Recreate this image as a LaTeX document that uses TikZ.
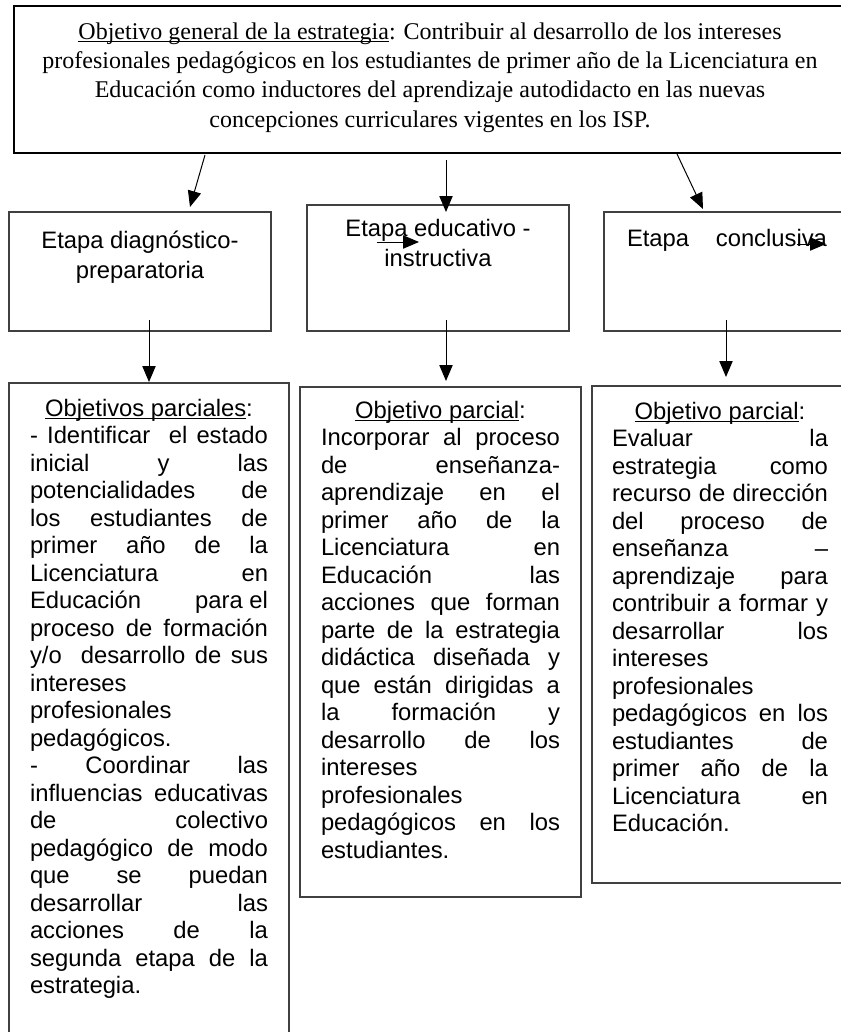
\documentclass[tikz,border=0pt]{standalone}
\usepackage{fontspec}
\usetikzlibrary{arrows.meta}
\newfontfamily\serifA{Liberation Serif}
\newfontfamily\sansA{Liberation Sans}
\newcommand\myul[1]{\leavevmode\setbox0\hbox{#1}\rlap{\rule[-0.13em]{\wd0}{0.055em}}\box0}
\newcommand\jln[1]{\makebox[\linewidth][s]{#1}\par}
\newcommand\lln[1]{\makebox[\linewidth][l]{#1}\par}
\newcommand\cln[1]{\makebox[\linewidth][c]{#1}\par}
\newcommand\sansbody{\sansA\fontsize{17.85pt}{20.625pt}\selectfont\parindent=0pt\parskip=0pt}
\newcommand\sansstage{\sansA\fontsize{17.85pt}{22.5pt}\selectfont\parindent=0pt\parskip=0pt}
\tikzset{
  box/.style={draw=black!75, line width=0.9pt, inner sep=0pt, outer sep=0pt, anchor=north west, rectangle},
  txt/.style={inner sep=0pt, outer sep=0pt, anchor=base west},
  arr/.style={line width=0.75pt, -{Triangle[length=12pt,width=10pt]}}
}
\begin{document}
\begin{tikzpicture}[x=0.75pt,y=-0.75pt]
\useasboundingbox (0,0) rectangle (841,1032);
\clip (0,0) rectangle (841,1032);
% boxes
\node[box, draw=black, minimum width=627pt, minimum height=110.25pt] (top) at (14,6) {};
\node[box, minimum width=196.5pt, minimum height=89.25pt] (s1) at (9,212) {};
\node[box, minimum width=196.5pt, minimum height=94.5pt] (s2) at (307,205) {};
\node[box, minimum width=199.5pt, minimum height=89.25pt] (s3) at (604,212) {};
\node[box, minimum width=210pt, minimum height=496.5pt] (oa) at (9,383) {};
\node[box, minimum width=210.75pt, minimum height=382.5pt] (ob) at (300,387) {};
\node[box, minimum width=193.5pt, minimum height=372.75pt] (oc) at (592,386) {};
% top text
\node[txt, anchor=base] (ttop) at (430,39) {\begin{minipage}[t]{600pt}\centering\serifA\fontsize{18pt}{22pt}\selectfont
\myul{Objetivo general de la estrategia}: Contribuir al desarrollo de los intereses\\
profesionales pedagógicos en los estudiantes de primer año de la Licenciatura en\\
Educación como inductores del aprendizaje autodidacto en las nuevas\\
concepciones curriculares vigentes en los ISP.\end{minipage}};
% stage texts
\node[txt, anchor=base] (t1) at (140,248) {\begin{minipage}[t]{190pt}\centering\sansstage Etapa diagnóstico-\\preparatoria\end{minipage}};
\node[txt, anchor=base] (t2) at (438,236) {\begin{minipage}[t]{190pt}\centering\sansstage Etapa educativo -\\instructiva\end{minipage}};
\node[txt] (t3) at (627,246) {\sansstage\makebox[150pt][s]{Etapa conclusiva}};
% objective texts
\node[txt] (ta) at (30,416) {\begin{minipage}[t]{178.5pt}\sansbody
\cln{\myul{Objetivos parciales}:}
\jln{- Identificar\ \ el estado}
\jln{inicial y las}
\jln{potencialidades de}
\jln{los estudiantes de}
\jln{primer año de la}
\jln{Licenciatura en}
\jln{Educación\hfill para el}
\jln{proceso de formación}
\jln{y/o\ \ desarrollo de sus}
\lln{intereses}
\lln{profesionales}
\lln{pedagógicos.}
\jln{- Coordinar las}
\jln{influencias educativas}
\jln{de colectivo}
\jln{pedagógico de modo}
\jln{que se puedan}
\jln{desarrollar las}
\jln{acciones de la}
\jln{segunda etapa de la}
\lln{estrategia.}
\end{minipage}};
\node[txt] (tb) at (321,418) {\begin{minipage}[t]{179.25pt}\sansbody
\cln{\myul{Objetivo parcial}:}
\jln{Incorporar al proceso}
\jln{de enseñanza-}
\jln{aprendizaje en el}
\jln{primer año de la}
\jln{Licenciatura en}
\jln{Educación las}
\jln{acciones que forman}
\jln{parte de la estrategia}
\jln{didáctica diseñada y}
\jln{que están dirigidas a}
\jln{la formación y}
\jln{desarrollo de los}
\lln{intereses}
\lln{profesionales}
\jln{pedagógicos en los}
\lln{estudiantes.}
\end{minipage}};
\node[txt] (tc) at (612,419) {\begin{minipage}[t]{162pt}\sansbody
\cln{\myul{Objetivo parcial}:}
\jln{Evaluar la}
\jln{estrategia como}
\jln{recurso de dirección}
\jln{del proceso de}
\jln{enseñanza –}
\jln{aprendizaje para}
\jln{contribuir a formar y}
\jln{desarrollar los}
\lln{intereses}
\lln{profesionales}
\jln{pedagógicos en los}
\jln{estudiantes de}
\jln{primer año de la}
\jln{Licenciatura en}
\lln{Educación.}
\end{minipage}};
% connector end points
\coordinate (c1) at (205,155); \coordinate (e1) at (190,207);
\coordinate (c2) at (446,160); \coordinate (e2) at (446,212);
\coordinate (c3) at (677,154); \coordinate (e3) at (703,209);
\coordinate (d1) at (149,320); \coordinate (f1) at (149,382);
\coordinate (d2) at (446,320); \coordinate (f2) at (446,381);
\coordinate (d3) at (726,320); \coordinate (f3) at (726,377);
\coordinate (g1) at (377,242); \coordinate (h1) at (419,242);
\coordinate (g2) at (797,244); \coordinate (h2) at (826,244);
\draw[arr] (c1) -- (e1);
\draw[arr] (c2) -- (e2);
\draw[arr] (c3) -- (e3);
\draw[arr] (d1) -- (f1);
\draw[arr] (d2) -- (f2);
\draw[arr] (d3) -- (f3);
\draw[arr] (g1) -- (h1);
\draw[arr] (g2) -- (h2);
\end{tikzpicture}
\end{document}
